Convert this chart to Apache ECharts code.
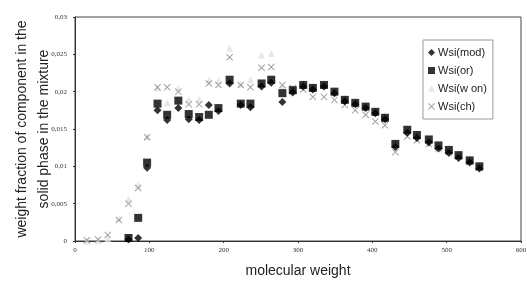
<!DOCTYPE html>
<html>
<head>
<meta charset="utf-8">
<script src="https://cdn.jsdelivr.net/npm/echarts@6/dist/echarts.min.js"></script>
<style>
  html, body { margin: 0; padding: 0; background: #fff; }
  #chart { width: 527px; height: 287px; }
</style>
</head>
<body>
<div id="chart"></div>
<script>
// molecular weight of each component (x)
var molWeight = [16, 31, 44, 59, 72, 85, 97, 111, 124, 139, 153, 167, 180, 193, 208, 223, 236, 251, 264, 279,
  293, 307, 320, 335, 349, 363, 377, 391, 404, 417, 431, 447, 460, 476, 489, 503, 516, 531, 544];

var wsiMod = [null, null, null, null, 0.0002, 0.0004, 0.0098, 0.0175, 0.0162, 0.0178, 0.0163, 0.0162, 0.0182, 0.0174,
  0.0211, 0.0182, 0.0179, 0.0207, 0.0212, 0.0186, 0.0199, 0.0207, 0.0203, 0.0207, 0.0198, 0.0187, 0.0183, 0.0178,
  0.0171, 0.0163, 0.0126, 0.0145, 0.0138, 0.0132, 0.0124, 0.0118, 0.0111, 0.0105, 0.0097];

var wsiOr = [null, null, null, null, 0.0004, 0.0031, 0.0105, 0.0184, 0.0169, 0.0188, 0.017, 0.0166, 0.0169, 0.0178,
  0.0216, 0.0184, 0.0184, 0.0211, 0.0216, 0.0198, 0.0202, 0.0209, 0.0205, 0.0209, 0.02, 0.0189, 0.0185, 0.018,
  0.0173, 0.0165, 0.013, 0.0149, 0.0142, 0.0136, 0.0128, 0.0122, 0.0115, 0.0108, 0.01];

var wsiWon = [0, 0, 0.0003, 0.003, 0.0056, 0.0075, 0.014, 0.0205, 0.0185, 0.0205, 0.019, 0.019, 0.0216, 0.0215,
  0.0258, 0.021, 0.0216, 0.0249, 0.0251, 0.0206, 0.0205, 0.0211, 0.0208, 0.021, 0.0202, 0.0192, 0.0188, 0.0182,
  0.0175, 0.0168, 0.0132, 0.0151, 0.0144, 0.0138, 0.013, 0.0124, 0.0117, 0.011, 0.0102];

var wsiCh = [0.0001, 0.0002, 0.0008, 0.0028, 0.005, 0.0071, 0.0139, 0.0206, 0.0206, 0.02, 0.0183, 0.0183, 0.0211,
  0.0209, 0.0246, 0.0209, 0.0206, 0.0232, 0.0233, 0.0209, 0.0205, 0.0203, 0.0193, 0.0193, 0.0189, 0.0182, 0.0175,
  0.0169, 0.016, 0.0155, 0.0119, 0.014, 0.0135, 0.013, 0.0124, 0.0119, 0.0113, 0.0106, 0.0098];

var seriesNames = ["Wsi(mod)", "Wsi(or)", "Wsi(w on)", "Wsi(ch)"];

// x-shaped marker
var crossPath = "path://M0,1L1,0L5,4L9,0L10,1L6,5L10,9L9,10L5,6L1,10L0,9L4,5Z";

function pairs(vals) {
  var out = [];
  for (var i = 0; i < molWeight.length; i++) {
    if (vals[i] !== null) out.push([molWeight[i], vals[i]]);
  }
  return out;
}

var chart = echarts.init(document.getElementById("chart"));
chart.setOption({
  animation: false,
  backgroundColor: "#fff",
  grid: {
    left: 75, right: 6, top: 17, bottom: 46,
    outerBoundsMode: "none",
    containLabel: false,
    show: true, borderColor: "#444", borderWidth: 1
  },
  legend: {
    orient: "vertical",
    left: 423, top: 40,
    width: 72,
    padding: [7, 6, 7, 5],
    itemGap: 7,
    itemWidth: 7, itemHeight: 7,
    borderColor: "#999", borderWidth: 1,
    backgroundColor: "#fff",
    textStyle: { fontFamily: "Liberation Sans", fontSize: 11, color: "#222", padding: [0, 0, 0, -2] },
    data: seriesNames
  },
  xAxis: {
    type: "value",
    min: 0, max: 600, interval: 100,
    name: "molecular weight",
    nameLocation: "middle",
    nameGap: 23,
    nameMoveOverlap: false,
    nameTextStyle: { fontFamily: "Liberation Sans", fontSize: 14, color: "#222" },
    axisLine: { lineStyle: { color: "#333" } },
    axisTick: { show: true, length: 2, inside: false, lineStyle: { color: "#333" } },
    axisLabel: { fontFamily: "Liberation Serif", fontSize: 7, color: "#333", margin: 6 },
    splitLine: { show: false }
  },
  yAxis: {
    type: "value",
    min: 0, max: 0.03, interval: 0.005,
    name: "weight fraction of component in the\nsolid phase in the mixture",
    nameLocation: "middle",
    nameGap: 20,
    nameMoveOverlap: false,
    nameTextStyle: { fontFamily: "Liberation Sans", fontSize: 14, color: "#222", lineHeight: 22 },
    axisLine: { show: true, lineStyle: { color: "#333" } },
    axisTick: { show: true, length: 2, lineStyle: { color: "#333" } },
    axisLabel: {
      fontFamily: "Liberation Serif", fontSize: 7, color: "#333", margin: 8,
      formatter: function (v) { return String(+v.toFixed(3)).replace(".", ","); }
    },
    splitLine: { show: false }
  },
  series: [
    {
      name: seriesNames[3], type: "scatter", symbol: crossPath, symbolSize: 7,
      itemStyle: { color: "#8a8a8a" }, data: pairs(wsiCh), z: 2
    },
    {
      name: seriesNames[2], type: "scatter", symbol: "triangle", symbolSize: 7,
      itemStyle: { color: "#e2e2e2" }, data: pairs(wsiWon), z: 1
    },
    {
      name: seriesNames[1], type: "scatter", symbol: "rect", symbolSize: 8,
      itemStyle: { color: "#000" }, data: pairs(wsiOr), z: 3
    },
    {
      name: seriesNames[0], type: "scatter", symbol: "diamond", symbolSize: 8,
      itemStyle: { color: "#000" }, data: pairs(wsiMod), z: 4
    }
  ]
});
</script>
</body>
</html>
